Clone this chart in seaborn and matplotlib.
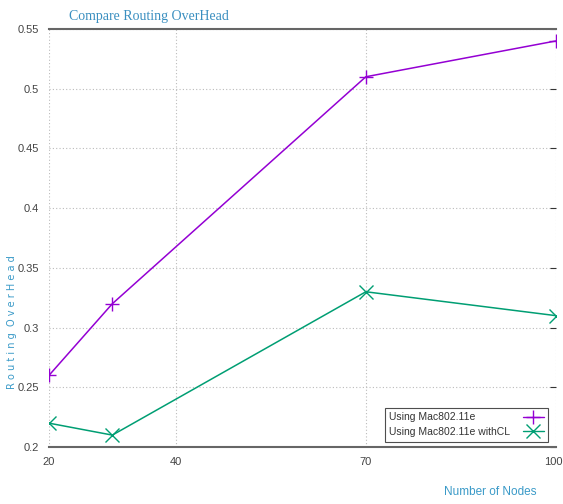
import matplotlib
matplotlib.use("Agg")
import matplotlib.pyplot as plt
import matplotlib.transforms as mtransforms
import seaborn as sns
import pandas as pd

nodes = [20, 30, 70, 100]
overhead_mac = [0.26, 0.32, 0.51, 0.54]
overhead_cl = [0.22, 0.21, 0.33, 0.31]
series_names = ["Using Mac802.11e", "Using Mac802.11e withCL"]
x_ticks = [20, 40, 70, 100]
y_ticks = [0.2, 0.25, 0.3, 0.35, 0.4, 0.45, 0.5, 0.55]
y_tick_labels = ["0.2", "0.25", "0.3", "0.35", "0.4", "0.45", "0.5", "0.55"]

df = pd.DataFrame({
    "nodes": nodes * 2,
    "overhead": overhead_mac + overhead_cl,
    "series": [series_names[0]] * len(nodes) + [series_names[1]] * len(nodes),
})

sns.set_style("white")
plt.rcParams["font.family"] = ["Liberation Sans", "DejaVu Sans"]

fig = plt.figure(figsize=(5.63, 5.04), dpi=100)
ax = fig.add_axes([0.087, 0.113, 0.9005, 0.8295])

colors = ["#9400d3", "#009e73"]
palette = dict(zip(series_names, colors))
markers = {series_names[0]: "+", series_names[1]: "x"}
sns.lineplot(data=df, x="nodes", y="overhead", hue="series", style="series",
             palette=palette, markers=markers, dashes=False, markersize=10,
             linewidth=1.1, ax=ax, legend=False)

# open markers need their edge coloured like the line
for line, c in zip(ax.get_lines(), colors):
    line.set_markeredgecolor(c)
    line.set_markerfacecolor(c)
    line.set_markeredgewidth(1.0)

ax.set_xlim(20, 100)
ax.set_ylim(0.2, 0.55)
ax.set_xticks(x_ticks)
ax.set_yticks(y_ticks)
ax.set_yticklabels(y_tick_labels)
ax.tick_params(axis="both", direction="in", length=4, width=0.8, color="#333333",
               labelsize=8, labelcolor="#444444", pad=7, right=True, top=False)
ax.grid(True, color="#bbbbbb", linestyle=(0, (1, 2)), linewidth=0.8)

# keep the last x tick label inside the figure
last = ax.get_xticklabels()[-1]
last.set_transform(last.get_transform() +
                   mtransforms.ScaledTranslation(-2 / 72, 0, fig.dpi_scale_trans))

for side in ["left", "right"]:
    ax.spines[side].set_visible(False)
for side in ["top", "bottom"]:
    ax.spines[side].set_color("#666666")
    ax.spines[side].set_linewidth(1.5)

ax.set_xlabel("")
ax.set_ylabel("")
fig.text(0.122, 0.967, "Compare Routing OverHead", family="Liberation Serif",
         fontsize=10, color="#3a8fc0", ha="left", va="center")
fig.text(0.022, 0.36, "R o u t i n g  O v e r H e a d", family="DejaVu Sans",
         fontsize=7, color="#3a9ac8", rotation=90, ha="center", va="center")
fig.text(0.87, 0.024, "Number of Nodes", fontsize=8.5, color="#3a9ac8",
         ha="center", va="center")

handles = [plt.Line2D([], [], color=c, marker=m, markersize=10, linewidth=1.0,
                      markeredgewidth=1.0)
           for c, m in zip(colors, ["+", "x"])]
leg = ax.legend(handles, series_names, loc="lower right", markerfirst=False,
                frameon=True, fancybox=False, fontsize=7.5, handlelength=2.0,
                handletextpad=1.2, borderpad=0.45, labelspacing=0.45,
                borderaxespad=0.0, bbox_to_anchor=(0.985, 0.013))
leg.get_frame().set_edgecolor("#222222")
leg.get_frame().set_linewidth(0.8)
for t in leg.get_texts():
    t.set_color("#333333")

# left-align the labels while keeping the samples in one right-hand column
fig.canvas.draw()
renderer = fig.canvas.get_renderer()
widths = [t.get_window_extent(renderer).width for t in leg.get_texts()]
maxw = max(widths)
column = leg._legend_handle_box.get_children()[0]
column.align = "left"
for row, w in zip(column.get_children(), widths):
    row.sep += (maxw - w) * 72 / fig.dpi

fig.savefig("out.png", dpi=100)
